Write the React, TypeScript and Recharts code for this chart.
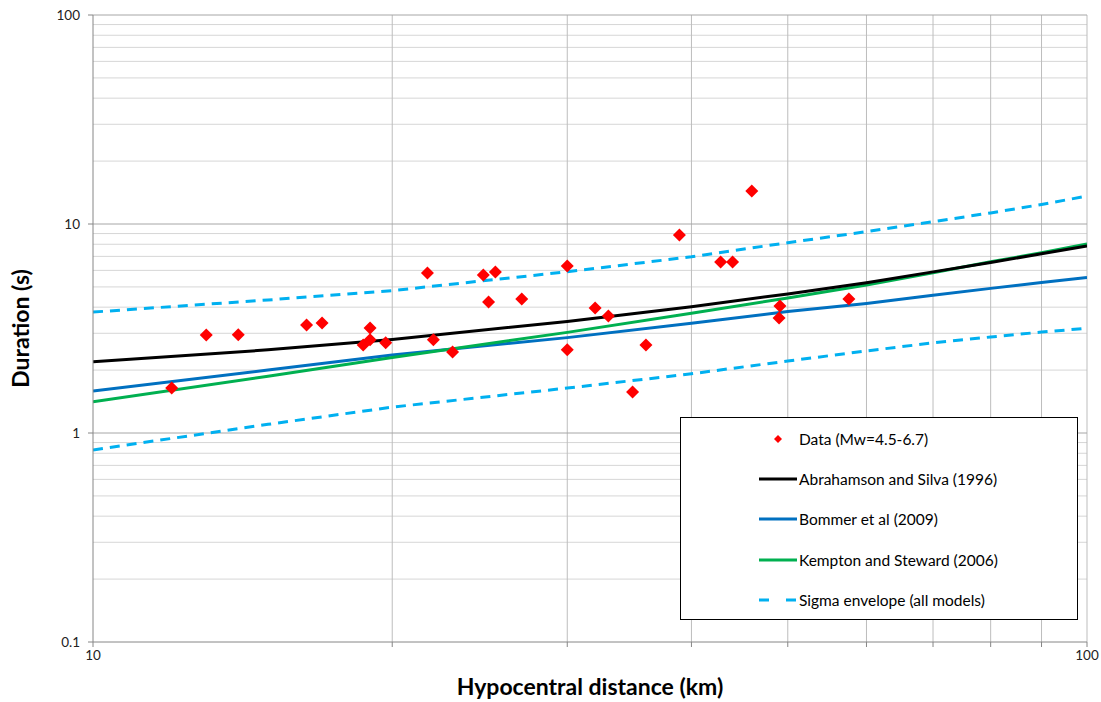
import { ComposedChart, Line, Scatter, XAxis, YAxis, ReferenceLine } from 'recharts'

// hypocentral distance (km) and duration (s) of the recorded events
const eventDistance = [12.0, 13.0, 14.0, 16.4, 17.0, 18.7, 19.0, 19.0, 19.7, 21.7, 22.0, 23.0, 24.7, 25.0, 25.4, 27.0, 30.0, 30.0, 32.0, 33.0, 34.9, 36.0, 38.9, 42.8, 44.0, 46.0, 49.1, 49.0, 57.6]
const eventDuration = [1.64, 2.94, 2.95, 3.29, 3.36, 2.64, 3.18, 2.79, 2.7, 5.83, 2.79, 2.44, 5.7, 4.24, 5.9, 4.38, 6.3, 2.5, 3.96, 3.63, 1.57, 2.64, 8.86, 6.58, 6.58, 14.4, 4.05, 3.55, 4.38]

// model curves read at these distances
const modelDistance = [10, 15, 20, 30, 40, 50, 60, 70, 80, 90, 100]
const abrahamson = [2.19, 2.5, 2.8, 3.42, 4.02, 4.63, 5.24, 5.9, 6.55, 7.2, 7.85]
const bommer = [1.59, 2.0, 2.36, 2.86, 3.35, 3.81, 4.17, 4.56, 4.92, 5.25, 5.54]
const kempton = [1.41, 1.87, 2.3, 3.03, 3.74, 4.43, 5.11, 5.85, 6.6, 7.28, 8.02]
const sigmaUpper = [3.79, 4.33, 4.8, 5.91, 6.97, 8.14, 9.19, 10.26, 11.3, 12.4, 13.6]
const sigmaLower = [0.83, 1.1, 1.33, 1.64, 1.92, 2.21, 2.47, 2.7, 2.88, 3.04, 3.17]

const xTicks = [10, 20, 30, 40, 50, 60, 70, 80, 90, 100]
const xLabelTicks = [10, 100]
const yTicks = [0.1, 1, 10, 100]
const yMinor = [0.2, 0.3, 0.4, 0.5, 0.6, 0.7, 0.8, 0.9, 2, 3, 4, 5, 6, 7, 8, 9, 20, 30, 40, 50, 60, 70, 80, 90]
const yMajor = [1, 10, 100]

const legendItems = [
  { name: 'Data (Mw=4.5-6.7)', color: '#FF0000', kind: 'diamond' },
  { name: 'Abrahamson and Silva (1996)', color: '#000000', kind: 'line' },
  { name: 'Bommer et al (2009)', color: '#0070C0', kind: 'line' },
  { name: 'Kempton and Steward (2006)', color: '#00B050', kind: 'line' },
  { name: 'Sigma envelope (all models)', color: '#00B0F0', kind: 'dash' },
]

const toPoints = (xs: number[], ys: number[]) => xs.map((x, i) => ({ x, y: ys[i] }))

const font = 'Lato, "Liberation Sans", sans-serif'

const Diamond = (props: any) => {
  const { cx, cy } = props
  const r = 6.5
  return <polygon points={`${cx},${cy - r} ${cx + r},${cy} ${cx},${cy + r} ${cx - r},${cy}`} fill="#FF0000" />
}

const XTick = (props: any) => {
  const { x, y, payload } = props
  if (!xLabelTicks.includes(payload.value)) return <g />
  return (
    <text x={x} y={y} dy={10} textAnchor="middle" fontSize={13.5} fill="#222" fontFamily={font}>
      {payload.value}
    </text>
  )
}

function LegendBox() {
  return (
    <div
      style={{
        position: 'absolute',
        left: 680,
        top: 417,
        width: 398,
        height: 203,
        border: '1px solid #000',
        background: '#fff',
        fontFamily: font,
        fontSize: 15.5,
        color: '#000',
        boxSizing: 'border-box',
        paddingTop: 1,
      }}
    >
      {legendItems.map((it) => (
        <div key={it.name} style={{ display: 'flex', alignItems: 'center', height: 40.2 }}>
          <svg width={118} height={12} style={{ flex: 'none' }}>
            {it.kind === 'diamond' && <polygon points="97,2 101,6 97,10 93,6" fill={it.color} />}
            {it.kind === 'line' && <line x1={78} x2={116} y1={6} y2={6} stroke={it.color} strokeWidth={3} />}
            {it.kind === 'dash' && (
              <line x1={78} x2={116} y1={6} y2={6} stroke={it.color} strokeWidth={3} strokeDasharray="10 17" />
            )}
          </svg>
          <span>{it.name}</span>
        </div>
      ))}
    </div>
  )
}

export default function App() {
  return (
    <div style={{ position: 'absolute', left: 0, top: 0, width: 1101, height: 702, background: '#fff' }}>
      <ComposedChart width={1101} height={702} margin={{ top: 15, right: 14, left: 0, bottom: 0 }}>
        {yMinor.map((v) => (
          <ReferenceLine key={'ym' + v} y={v} stroke="#d6d6d6" strokeWidth={1} />
        ))}
        {xTicks.slice(1).map((v) => (
          <ReferenceLine key={'xv' + v} x={v} stroke="#bdbdbd" strokeWidth={1} />
        ))}
        {yMajor.map((v) => (
          <ReferenceLine key={'yM' + v} y={v} stroke="#a6a6a6" strokeWidth={1} />
        ))}
        <XAxis
          type="number"
          dataKey="x"
          scale="log"
          domain={[10, 100]}
          allowDataOverflow
          ticks={xTicks}
          interval={0}
          tick={<XTick />}
          tickSize={5}
          tickMargin={3}
          height={60}
          stroke="#868686"
          label={{
            value: 'Hypocentral distance (km)',
            position: 'insideBottom',
            offset: 7,
            style: { fontFamily: font, fontSize: 23, fontWeight: 700, fill: '#000' },
          }}
        />
        <YAxis
          type="number"
          dataKey="y"
          scale="log"
          domain={[0.1, 100]}
          allowDataOverflow
          ticks={yTicks}
          interval={0}
          width={93}
          tickSize={5}
          tickMargin={8}
          stroke="#868686"
          tick={{ fontSize: 13.5, fill: '#222', fontFamily: font }}
          tickFormatter={(v: number) => String(v)}
          label={{
            value: 'Duration (s)',
            angle: -90,
            position: 'insideLeft',
            offset: 21,
            style: { fontFamily: font, fontSize: 23, fontWeight: 700, fill: '#000', textAnchor: 'middle' },
          }}
        />
        <Line data={toPoints(modelDistance, sigmaUpper)} dataKey="y" name="Sigma envelope (all models)" stroke="#00B0F0" strokeWidth={3} strokeDasharray="10 7" dot={false} isAnimationActive={false} />
        <Line data={toPoints(modelDistance, sigmaLower)} dataKey="y" name="Sigma lower" stroke="#00B0F0" strokeWidth={3} strokeDasharray="10 7" dot={false} legendType="none" isAnimationActive={false} />
        <Line data={toPoints(modelDistance, bommer)} dataKey="y" name="Bommer et al (2009)" stroke="#0070C0" strokeWidth={3} dot={false} isAnimationActive={false} />
        <Line data={toPoints(modelDistance, kempton)} dataKey="y" name="Kempton and Steward (2006)" stroke="#00B050" strokeWidth={3} dot={false} isAnimationActive={false} />
        <Line data={toPoints(modelDistance, abrahamson)} dataKey="y" name="Abrahamson and Silva (1996)" stroke="#000000" strokeWidth={3} dot={false} isAnimationActive={false} />
        <Scatter data={toPoints(eventDistance, eventDuration)} dataKey="y" name="Data (Mw=4.5-6.7)" fill="#FF0000" shape={Diamond} isAnimationActive={false} />
      </ComposedChart>
      <LegendBox />
    </div>
  )
}
